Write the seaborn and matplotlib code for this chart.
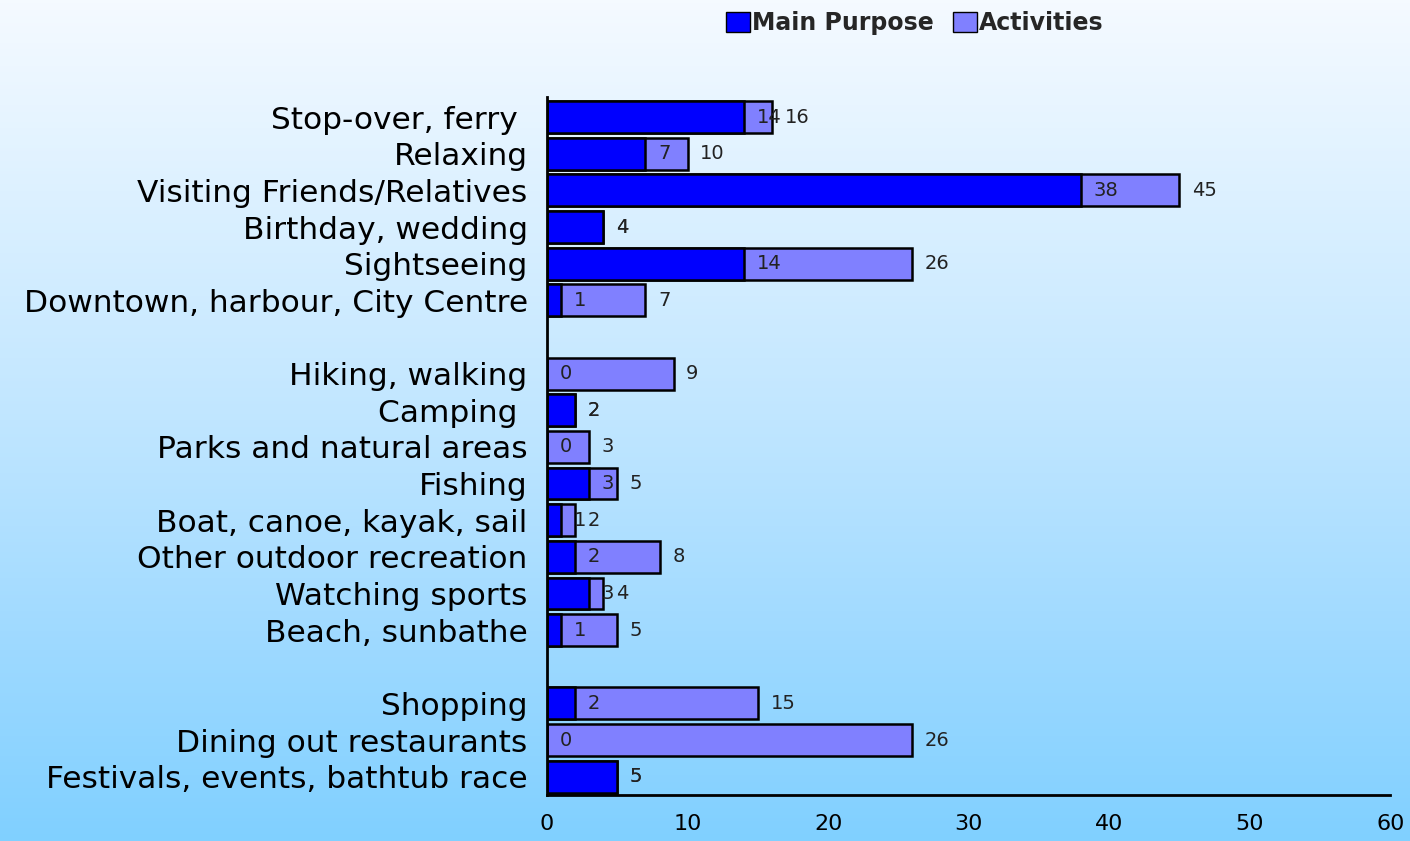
import numpy as np
import pandas as pd
import matplotlib.pyplot as plt
import seaborn as sns
from matplotlib.colors import LinearSegmentedColormap
from matplotlib.patches import Patch

# categories, top to bottom (blank entries are the gaps between groups)
categories = ["Stop-over, ferry ", "Relaxing", "Visiting Friends/Relatives",
              "Birthday, wedding", "Sightseeing", "Downtown, harbour, City Centre",
              "Hiking, walking", "Camping ", "Parks and natural areas", "Fishing",
              "Boat, canoe, kayak, sail", "Other outdoor recreation",
              "Watching sports", "Beach, sunbathe",
              "Shopping", "Dining out restaurants", "Festivals, events, bathtub race"]
main_purpose = [14, 7, 38, 4, 14, 1, 0, 2, 0, 3, 1, 2, 3, 1, 2, 0, 5]
activities = [16, 10, 45, 4, 26, 7, 9, 2, 3, 5, 2, 8, 4, 5, 15, 26, 5]

order = categories[:6] + [" "] + categories[6:14] + ["  "] + categories[14:]

df = pd.DataFrame({"category": categories, "Main Purpose": main_purpose,
                   "Activities": activities})

sns.set_style("white")
plt.rcParams['font.family'] = ['DejaVu Sans']

fig = plt.figure(figsize=(14.1, 8.41), dpi=100)

# gradient background
bg = fig.add_axes([0, 0, 1, 1], zorder=-10)
cmap = LinearSegmentedColormap.from_list(
    "bg", [(0, "#F5FAFF"), (0.5, "#C0E6FF"), (0.75, "#A0DAFF"), (1, "#80D0FF")])
bg.imshow(np.linspace(0, 1, 256).reshape(-1, 1), aspect="auto", cmap=cmap,
          extent=[0, 1, 0, 1])
bg.axis("off")

ax = fig.add_axes([0.388, 0.0547, 0.598, 0.83])
ax.patch.set_alpha(0)

sns.barplot(data=df, x="Activities", y="category", order=order, orient="h",
            color="#8080FF", saturation=1, width=0.87, edgecolor="black",
            linewidth=1.8, ax=ax)
sns.barplot(data=df, x="Main Purpose", y="category", order=order, orient="h",
            color="#0000FF", saturation=1, width=0.87, edgecolor="black",
            linewidth=1.8, ax=ax)

for cat, m, a in zip(categories, main_purpose, activities):
    pos = order.index(cat)
    ax.text(m + 0.9, pos, str(m), va="center", ha="left", fontsize=14,
            color="#222222")
    ax.text(a + 0.9, pos, str(a), va="center", ha="left", fontsize=14,
            color="#222222")

ax.set_xlim(0, 60)
ax.set_ylim(18.5, -0.55)
ax.set_xticks(range(0, 61, 10))
ax.set_xlabel("")
ax.set_ylabel("")
ax.tick_params(axis="x", length=0, pad=14, labelsize=16, labelcolor="black")
ax.tick_params(axis="y", length=0, pad=14, labelsize=22.5, labelcolor="black")
for s in ["top", "right"]:
    ax.spines[s].set_visible(False)
for s in ["left", "bottom"]:
    ax.spines[s].set_color("black")
    ax.spines[s].set_linewidth(2)

handles = [Patch(facecolor="#0000FF", edgecolor="black", label="Main Purpose"),
           Patch(facecolor="#8080FF", edgecolor="black", label="Activities")]
fig.legend(handles=handles, loc="upper center", bbox_to_anchor=(0.649, 1.012),
           ncol=2, frameon=False, prop={"weight": "bold", "size": 17},
           handlelength=1.0, handleheight=0.9, handletextpad=0.1,
           columnspacing=0.8)

fig.savefig("out.png", dpi=100)
